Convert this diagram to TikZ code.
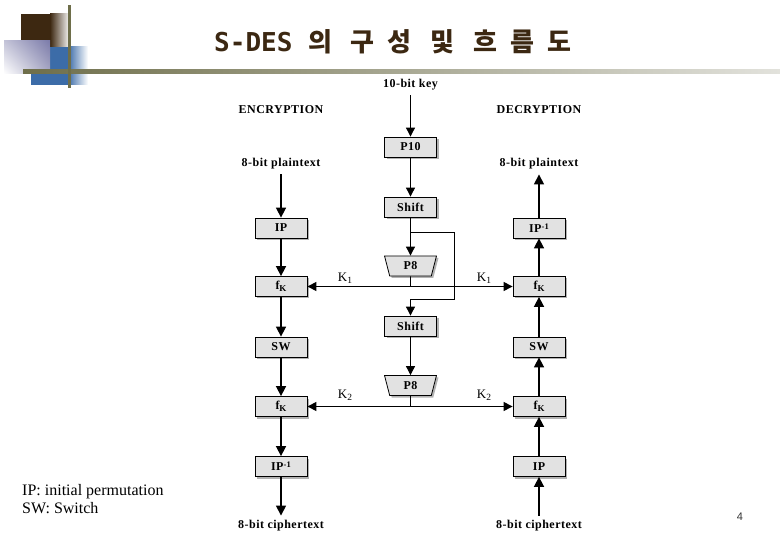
\documentclass[tikz,border=0pt]{standalone}
\usepackage{fontspec}
\setmainfont{Liberation Serif}
\newfontfamily\dfont{Liberation Serif}[LetterSpace=4.0]
\newfontfamily\kfont{Noto Sans CJK KR}[LetterSpace=50.0]
\newfontfamily\monofont{DejaVu Sans Mono}
\newfontfamily\pnfont{Liberation Sans}
\usetikzlibrary{arrows.meta,shapes.geometric,shadows,shadings}
\definecolor{decoBrown}{HTML}{3D2811}
\definecolor{decoBlue}{HTML}{3C6CA8}
\definecolor{decoLav}{HTML}{7C7CAA}
\definecolor{lavUL}{HTML}{C4C4D8}
\definecolor{lavLR}{HTML}{A8A8C4}
\definecolor{lineOlive}{HTML}{6E6E4A}
\definecolor{lineEnd}{HTML}{E2E2DC}
\definecolor{titleBrown}{HTML}{3C2812}
\definecolor{boxgray}{HTML}{E2E2E2}
\newcommand{\fkk}{f\raisebox{-2.5pt}{\fontsize{9}{9}\selectfont K}}
\newcommand{\ipinv}{IP\raisebox{3pt}{\fontsize{8.5}{9}\selectfont -1}}
\tikzset{
  blk/.style={draw=black, line width=0.8pt, fill=boxgray, minimum width=52pt, minimum height=20pt,
    inner sep=0pt, font=\dfont\bfseries\fontsize{12}{13}\selectfont,
    drop shadow={shadow xshift=2pt, shadow yshift=-2pt, fill=black!30, opacity=1}},
  trap/.style={blk, trapezium, trapezium stretches=true, shape border rotate=180,
    trapezium left angle=78, trapezium right angle=78},
  lbl/.style={font=\dfont\bfseries\fontsize{12}{14}\selectfont, inner sep=0pt, outer sep=5pt},
  klbl/.style={font=\dfont\fontsize{13}{14}\selectfont, inner sep=0pt},
  side/.style={line width=1.6pt, -{Triangle[width=10pt,length=10pt]}},
  mid/.style={line width=0.9pt, -{Triangle[width=9pt,length=9pt]}},
  kline/.style={line width=1.1pt, -{Triangle[width=9pt,length=9pt]}},
  plain/.style={line width=0.9pt},
}
\begin{document}
\begin{tikzpicture}[x=1pt,y=-1pt]
\useasboundingbox (0,0) rectangle (780,540);
% decoration
\fill[decoBrown] (21,14) rectangle (50,47);
\shade[left color=decoBrown, right color=white] (50,14) rectangle (70,47);
\fill[decoBlue] (31,47) rectangle (68,85);
\shade[left color=decoBlue, right color=white] (68,47) rectangle (88,85);
\shade[upper left=lavUL, upper right=decoLav, lower left=white, lower right=lavLR] (4,41) rectangle (50,74);
\shade[left color=lineOlive, right color=lineEnd] (23,70) rectangle (780,74);
\fill[lineOlive] (67.5,5) rectangle (70.5,88);
% title
\node[text=titleBrown, inner sep=0pt, anchor=west] (title) at (214,42)
  {{\monofont\bfseries\fontsize{26}{28}\selectfont S-DES }{\kfont\bfseries\fontsize{26}{28}\selectfont 의 구성 및 흐름도}};
% labels
\node[lbl] (key) at (410.5,85) {10-bit key};
\node[lbl] (enc) at (281,110) {ENCRYPTION};
\node[lbl] (dec) at (539,110) {DECRYPTION};
\node[lbl] (ptL) at (281,164) {8-bit plaintext};
\node[lbl] (ptR) at (539,164) {8-bit plaintext};
\node[lbl] (ctL) at (281,526) {8-bit ciphertext};
\node[lbl] (ctR) at (539,526) {8-bit ciphertext};
% center column
\node[blk] (p10) at (410.5,147) {P10};
\node[blk] (sh1) at (410.5,207) {Shift};
\node[trap] (p8a) at (410.5,266) {P8};
\node[blk] (sh2) at (410.5,326) {Shift};
\node[trap] (p8b) at (410.5,385.5) {P8};
% left column
\node[blk] (ipL) at (281,228) {IP};
\node[blk] (fk1L) at (281,286.5) {\fkk};
\node[blk] (swL) at (281,347) {SW};
\node[blk] (fk2L) at (281,406.5) {\fkk};
\node[blk] (ipiL) at (281,466.5) {\ipinv};
% right column
\node[blk] (ipiR) at (539,228) {\ipinv};
\node[blk] (fk1R) at (539,286.5) {\fkk};
\node[blk] (swR) at (539,347) {SW};
\node[blk] (fk2R) at (539,406.5) {\fkk};
\node[blk] (ipR) at (539,466.5) {IP};
% key labels
\node[klbl] (k1L) at (345,278) {K\raisebox{-2pt}{\fontsize{9.5}{10}\selectfont 1}};
\node[klbl] (k1R) at (484,278) {K\raisebox{-2pt}{\fontsize{9.5}{10}\selectfont 1}};
\node[klbl] (k2L) at (345,395) {K\raisebox{-2pt}{\fontsize{9.5}{10}\selectfont 2}};
\node[klbl] (k2R) at (484,395) {K\raisebox{-2pt}{\fontsize{9.5}{10}\selectfont 2}};
% coordinates
\coordinate (k1) at (410.5,286.5);
\coordinate (k2) at (410.5,406.5);
\coordinate (b1) at (410.5,232);
\coordinate (b2) at (454,232);
\coordinate (b3) at (454,299);
\coordinate (b4) at (410.5,299);
% center connectors
\draw[mid] (key) -- (p10);
\draw[mid] (p10) -- (sh1);
\draw[mid] (sh1) -- (p8a);
\draw[mid] (b1) -- (b2) -- (b3) -- (b4) -- (sh2);
\draw[plain] (p8a) -- (k1);
\draw[kline] (k1) -- (fk1L);
\draw[kline] (k1) -- (fk1R);
\draw[mid] (sh2) -- (p8b);
\draw[plain] (p8b) -- (k2);
\draw[kline] (k2) -- (fk2L);
\draw[kline] (k2) -- (fk2R);
% left connectors
\draw[side] (ptL) -- (ipL);
\draw[side] (ipL) -- (fk1L);
\draw[side] (fk1L) -- (swL);
\draw[side] (swL) -- (fk2L);
\draw[side] (fk2L) -- (ipiL);
\draw[side] (ipiL) -- (ctL);
% right connectors
\draw[side] (ctR) -- (ipR);
\draw[side] (ipR) -- (fk2R);
\draw[side] (fk2R) -- (swR);
\draw[side] (swR) -- (fk1R);
\draw[side] (fk1R) -- (ipiR);
\draw[side] (ipiR) -- (ptR);
% notes
\node[font=\fontsize{16}{18}\selectfont, anchor=base west, inner sep=0pt] (note1) at (22,495) {IP: initial permutation};
\node[font=\fontsize{16}{18}\selectfont, anchor=base west, inner sep=0pt] (note2) at (22,513) {SW: Switch};
\node[font=\pnfont\fontsize{11}{12}\selectfont, text=black!80] (pg) at (740,517) {4};
\end{tikzpicture}
\end{document}
